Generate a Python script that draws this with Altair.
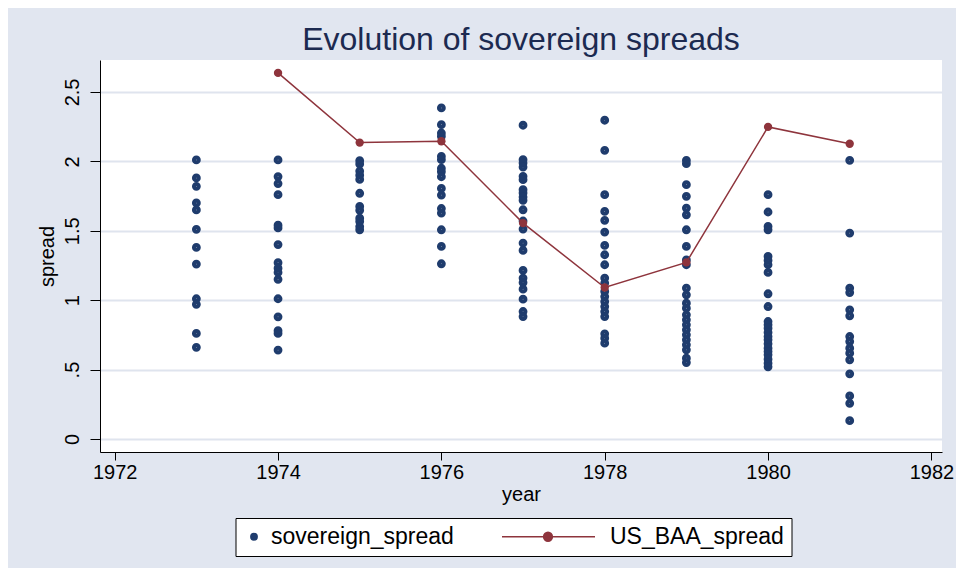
import altair as alt
import pandas as pd

# ---------------- data ----------------
years = [1973, 1974, 1975, 1976, 1977, 1978, 1979, 1980, 1981]

sov_1973 = [2.01, 1.88, 1.82, 1.70, 1.65, 1.51, 1.38, 1.26, 1.01, 0.97, 0.76, 0.66]
sov_1974 = [2.01, 1.89, 1.84, 1.76, 1.54, 1.52, 1.40, 1.27, 1.23, 1.20, 1.15, 1.01,
            0.88, 0.78, 0.76, 0.64]
sov_1975 = [2.005, 1.98, 1.93, 1.90, 1.87, 1.77, 1.675, 1.647, 1.59, 1.567, 1.53, 1.507]
sov_1976 = [2.385, 2.264, 2.204, 2.18, 2.036, 2.012, 1.95, 1.925, 1.889, 1.805, 1.757,
            1.66, 1.627, 1.507, 1.387, 1.262]
sov_1977 = [2.26, 2.012, 1.988, 1.959, 1.892, 1.868, 1.796, 1.772, 1.743, 1.719, 1.651,
            1.57, 1.512, 1.411, 1.358, 1.214, 1.159, 1.127, 1.079, 1.007, 0.918, 0.882]
sov_1978 = [2.296, 2.079, 1.76, 1.639, 1.575, 1.49, 1.394, 1.327, 1.255, 1.159, 1.123,
            1.063, 1.026, 0.99, 0.954, 0.918, 0.882, 0.757, 0.726, 0.69]
sov_1979 = [2.007, 1.983, 1.832, 1.748, 1.663, 1.615, 1.507, 1.387, 1.29, 1.255, 1.087,
            1.038, 0.978, 0.942, 0.894, 0.858, 0.822, 0.786, 0.75, 0.714, 0.678, 0.642,
            0.582, 0.55]
sov_1980 = [1.76, 1.635, 1.531, 1.507, 1.315, 1.286, 1.255, 1.2, 1.046, 0.954, 0.846,
            0.822, 0.798, 0.767, 0.738, 0.714, 0.685, 0.654, 0.63, 0.606, 0.575, 0.546,
            0.52]
sov_1981 = [2.007, 1.483, 1.087, 1.055, 0.93, 0.887, 0.738, 0.702, 0.654, 0.618, 0.57,
            0.469, 0.31, 0.257, 0.132]

baa_years = [1974, 1975, 1976, 1977, 1978, 1979, 1980, 1981]
baa_spread = [2.637, 2.135, 2.145, 1.555, 1.091, 1.272, 2.248, 2.127]

series_names = ["sovereign_spread", "US_BAA_spread"]
x_ticks = [1972, 1974, 1976, 1978, 1980, 1982]
y_ticks = [0, 0.5, 1, 1.5, 2, 2.5]

# ---------------- tables ----------------
sov_cols = [sov_1973, sov_1974, sov_1975, sov_1976, sov_1977,
            sov_1978, sov_1979, sov_1980, sov_1981]
rows = []
for yr, vals in zip(years, sov_cols):
    for v in vals:
        rows.append({"year": yr, "spread": v, "series": series_names[0]})
sov = pd.DataFrame(rows)
baa = pd.DataFrame({"year": baa_years, "spread": baa_spread,
                    "series": [series_names[1]] * len(baa_years)})

# ---------------- styles ----------------
BLUE = "#1f3c6d"
RED = "#8e343c"
BG = "#e1e6f0"
FONT = "Liberation Sans"


# filled-looking dot made from concentric rings (unit square coordinates)
def rings(cx, radii):
    parts = []
    for r in radii:
        parts.append(f"M{cx - r:.3f},0A{r:.3f},{r:.3f} 0 1,0 {cx + r:.3f},0"
                     f"A{r:.3f},{r:.3f} 0 1,0 {cx - r:.3f},0Z")
    return "".join(parts)


DOT_PATH = rings(0, [1.0, 0.75, 0.5, 0.25])
LINE_DOT_PATH = "M-22.75,0L0.5,0" + rings(-11.25, [1.1, 0.8, 0.5, 0.2])

legend = alt.Legend(
    title=None, orient="none", legendX=135.5, legendY=458, direction="horizontal",
    fillColor="white", strokeColor="black", padding=7, cornerRadius=0,
    labelFont=FONT, labelFontSize=23, labelColor="black", labelOffset=5.5,
    labelLimit=400, columnPadding=44, symbolStrokeWidth=1.5, symbolOpacity=1,
)

x_enc = alt.X(
    "year:Q",
    scale=alt.Scale(domain=[1971.82, 1982.13], nice=False, zero=False),
    axis=alt.Axis(
        values=x_ticks, format="d", grid=False, tickSize=8, tickColor="black",
        domainColor="black", labelFont=FONT, labelFontSize=20, labelColor="black",
        labelPadding=2, title="year", titleFont=FONT, titleFontSize=20,
        titleFontWeight="normal", titleColor="black", titleX=421, titleY=42,
        titleAlign="center", titleBaseline="middle",
    ),
)
y_enc = alt.Y(
    "spread:Q",
    scale=alt.Scale(domain=[-0.094, 2.73], nice=False, zero=False),
    axis=alt.Axis(
        values=y_ticks, labelExpr="replace(format(datum.value, '~g'), '0.', '.')",
        grid=True, gridColor="#dfe4ee", gridWidth=2, tickSize=10, tickColor="black",
        domainColor="black", labelFont=FONT, labelFontSize=20, labelColor="black",
        labelAngle=270, labelAlign="center", labelBaseline="alphabetic",
        labelPadding=12, title="spread", titleFont=FONT, titleFontSize=20,
        titleFontWeight="normal", titleColor="black", titleAngle=270,
        titleX=-53, titleY=196, titleAlign="center", titleBaseline="middle",
    ),
)

points = alt.Chart(sov).mark_point(filled=False, strokeWidth=2.5, opacity=1).encode(
    x=x_enc,
    y=y_enc,
    color=alt.Color("series:N", scale=alt.Scale(domain=series_names, range=[BLUE, RED]),
                    legend=legend),
    shape=alt.Shape("series:N", scale=alt.Scale(domain=series_names,
                                                range=[DOT_PATH, LINE_DOT_PATH]),
                    legend=legend),
    size=alt.Size("series:N", scale=alt.Scale(domain=series_names, range=[40, 64]),
                  legend=legend),
)

line = alt.Chart(baa).mark_line(color=RED, strokeWidth=1.5).encode(x=x_enc, y=y_enc)
red_pts = alt.Chart(baa).mark_circle(color=RED, size=70, opacity=1).encode(x=x_enc, y=y_enc)

chart = (
    alt.layer(points, line, red_pts)
    .properties(
        width=842, height=392,
        padding={"left": 92, "top": 52, "right": 14, "bottom": 116},
        autosize=alt.AutoSizeParams(type="none"),
        title=alt.TitleParams(
            "Evolution of sovereign spreads", frame="group", anchor="middle",
            fontSize=32, font=FONT, color="#1c2a50", fontWeight="normal",
            baseline="alphabetic", offset=8, dy=30,
        ),
    )
    .configure(background=BG)
    .configure_view(fill="white", stroke="white", strokeWidth=0)
)

chart.save("out.html", embed_options={"renderer": "svg", "actions": False})
